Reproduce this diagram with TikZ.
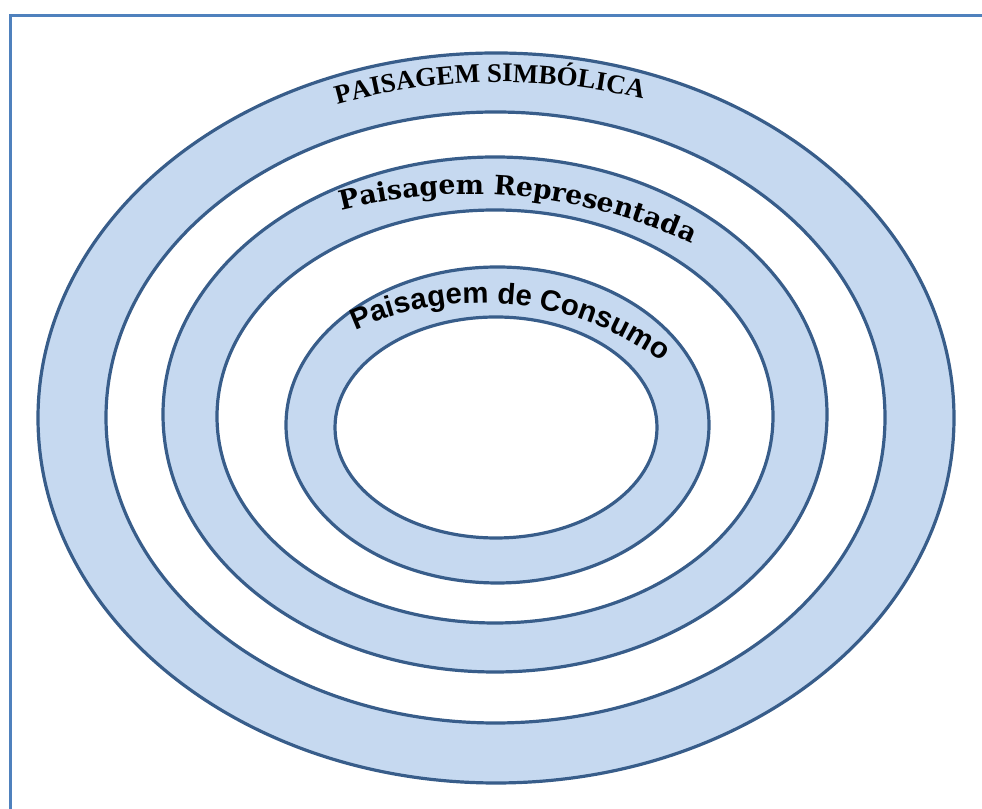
\documentclass[tikz,border=0pt]{standalone}
\usepackage{fontspec}
\usetikzlibrary{decorations.text}
\newfontfamily\outerfont{Liberation Serif}
\newfontfamily\midfont{DejaVu Serif}
\newfontfamily\innerfont{Liberation Sans}
\definecolor{ringfill}{HTML}{C6D9F0}
\definecolor{ringline}{HTML}{385D8A}
\definecolor{framecol}{HTML}{4F81BD}
\begin{document}
\begin{tikzpicture}[x=0.75pt,y=0.75pt,
  ring/.style={fill=ringfill,draw=ringline,line width=2.4pt,even odd rule},
  framestyle/.style={draw=framecol,line width=2.4pt},
  arclabel/.style={decorate,decoration={text along path,text align={center},text color=black,#1}}]
\useasboundingbox (0,0) rectangle (982,809);
% frame
\coordinate (fb) at (10.5,0);
\coordinate (ftl) at (10.5,793.5);
\coordinate (ftr) at (982,793.5);
\draw[framestyle] (fb) -- (ftl) -- (ftr);
% centres
\coordinate (c1o) at (496,391);
\coordinate (c1i) at (495.5,391.5);
\coordinate (c2o) at (495,394.5);
\coordinate (c2i) at (495,392.5);
\coordinate (c3o) at (497.5,384);
\coordinate (c3i) at (496,381.5);
% rings
\path[ring] (c1o) ellipse [x radius=458,y radius=365] (c1i) ellipse [x radius=389.5,y radius=305.5];
\path[ring] (c2o) ellipse [x radius=332,y radius=257.5] (c2i) ellipse [x radius=278,y radius=206.5];
\path[ring] (c3o) ellipse [x radius=211.5,y radius=158] (c3i) ellipse [x radius=161,y radius=110.5];
% labels
\coordinate (t1) at (500,123);
\coordinate (t2) at (470,98);
\coordinate (t3) at (482,200);
\path[arclabel={text={|\outerfont\bfseries\fontsize{20.2pt}{21pt}\selectfont|PAISAGEM SIMBÓLICA}}]
  ([shift={(120.98:604)}]t1) arc[start angle=120.98,end angle=60.98,radius=604];
\path[arclabel={text={|\midfont\bfseries\fontsize{20pt}{21pt}\selectfont|Paisagem Representada}}]
  ([shift={(119.5:517)}]t2) arc[start angle=119.5,end angle=49.5,radius=517];
\path[arclabel={text={|\innerfont\bfseries\fontsize{22pt}{23pt}\selectfont|Paisagem de Consumo}}]
  ([shift={(129.2:306)}]t3) arc[start angle=129.2,end angle=39.2,radius=306];
\end{tikzpicture}
\end{document}
